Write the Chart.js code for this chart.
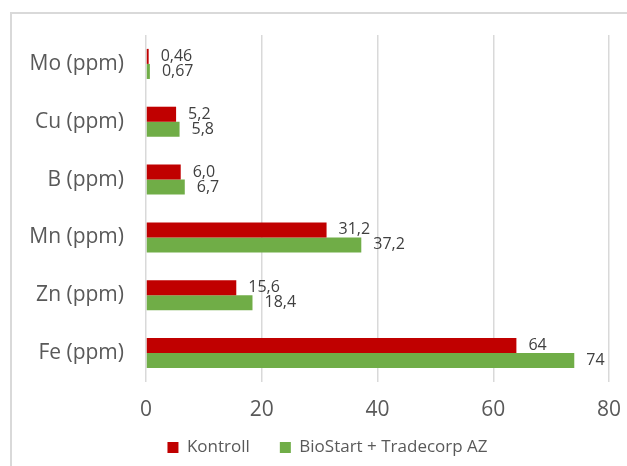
<!DOCTYPE html>
<html>
<head>
<meta charset="utf-8">
<script src="https://cdn.jsdelivr.net/npm/chart.js@4/dist/chart.umd.min.js"></script>
<style>
  body { margin: 0; background: #fff; }
  #wrap { position: relative; width: 627px; height: 466px; }
  #frame {
    position: absolute; left: 10px; top: 12px; right: 0; bottom: 0;
    border-top: 2px solid #d9d9d9; border-left: 2px solid #d9d9d9;
    pointer-events: none;
  }
  canvas { position: absolute; left: 0; top: 0; }
</style>
</head>
<body>
<div id="wrap">
  <canvas id="chart" width="627" height="466"></canvas>
  <div id="frame"></div>
</div>
<script>
// Daten
const categories = ['Mo (ppm)', 'Cu (ppm)', 'B (ppm)', 'Mn (ppm)', 'Zn (ppm)', 'Fe (ppm)'];
const kontroll = [0.46, 5.2, 6.0, 31.2, 15.6, 64];
const bioStart = [0.67, 5.8, 6.7, 37.2, 18.4, 74];
const decimals = [2, 1, 1, 1, 1, 0];
const seriesNames = ['Kontroll', 'BioStart + Tradecorp AZ'];
const xTicks = [0, 20, 40, 60, 80];

const textColor = '#595959';
const fontFamily = "'Open Sans', 'Noto Sans', sans-serif";

function fmt(v, i) {
    return v.toFixed(decimals[i]).replace('.', ',');
}

// Werte rechts neben den Balken
const valueLabels = {
    id: 'valueLabels',
    afterDatasetsDraw(chart) {
        const ctx = chart.ctx;
        ctx.save();
        ctx.font = '16px ' + fontFamily;
        ctx.fillStyle = '#404040';
        ctx.textAlign = 'left';
        ctx.textBaseline = 'middle';
        chart.data.datasets.forEach((ds, i) => {
            chart.getDatasetMeta(i).data.forEach((bar, j) => {
                ctx.fillText(fmt(ds.data[j], j), bar.x + 12, bar.y);
            });
        });
        ctx.restore();
    }
};

// Legende nach rechts schieben, X-Beschriftung nicht abschneiden
const layoutTweaks = {
    id: 'layoutTweaks',
    afterLayout(chart) {
        chart.legend.left += 17;
        chart.legend.right += 17;
        chart.scales.x.bottom = chart.height;
    }
};

new Chart(document.getElementById('chart'), {
    type: 'bar',
    data: {
        labels: categories,
        datasets: [{
            label: seriesNames[0],
            data: kontroll,
            backgroundColor: '#c00000'
        }, {
            label: seriesNames[1],
            data: bioStart,
            backgroundColor: '#70ad47'
        }]
    },
    options: {
        indexAxis: 'y',
        responsive: false,
        animation: false,
        categoryPercentage: 0.52,
        barPercentage: 1,
        layout: {
            padding: { left: 12, right: 18, top: 35, bottom: 0 }
        },
        scales: {
            x: {
                min: 0,
                max: 80,
                afterBuildTicks(scale) {
                    scale.ticks = xTicks.map(v => ({ value: v }));
                },
                afterFit(scale) {
                    scale.height = 27;
                    scale.paddingLeft = 0;
                    scale.paddingRight = 0;
                },
                grid: { color: '#d9d9d9', lineWidth: 1.5, drawTicks: false },
                border: { display: false },
                ticks: {
                    padding: 15,
                    color: textColor,
                    font: { family: fontFamily, size: 21 }
                }
            },
            y: {
                afterFit(scale) { scale.width = 134; },
                grid: { display: false, drawTicks: false },
                border: { display: false },
                ticks: {
                    padding: 22,
                    color: textColor,
                    font: { family: fontFamily, size: 21 }
                }
            }
        },
        plugins: {
            legend: {
                position: 'bottom',
                labels: {
                    boxWidth: 11,
                    boxHeight: 11,
                    padding: 30,
                    color: textColor,
                    font: { family: fontFamily, size: 17 }
                }
            },
            tooltip: { enabled: false }
        }
    },
    plugins: [valueLabels, layoutTweaks]
});
</script>
</body>
</html>
